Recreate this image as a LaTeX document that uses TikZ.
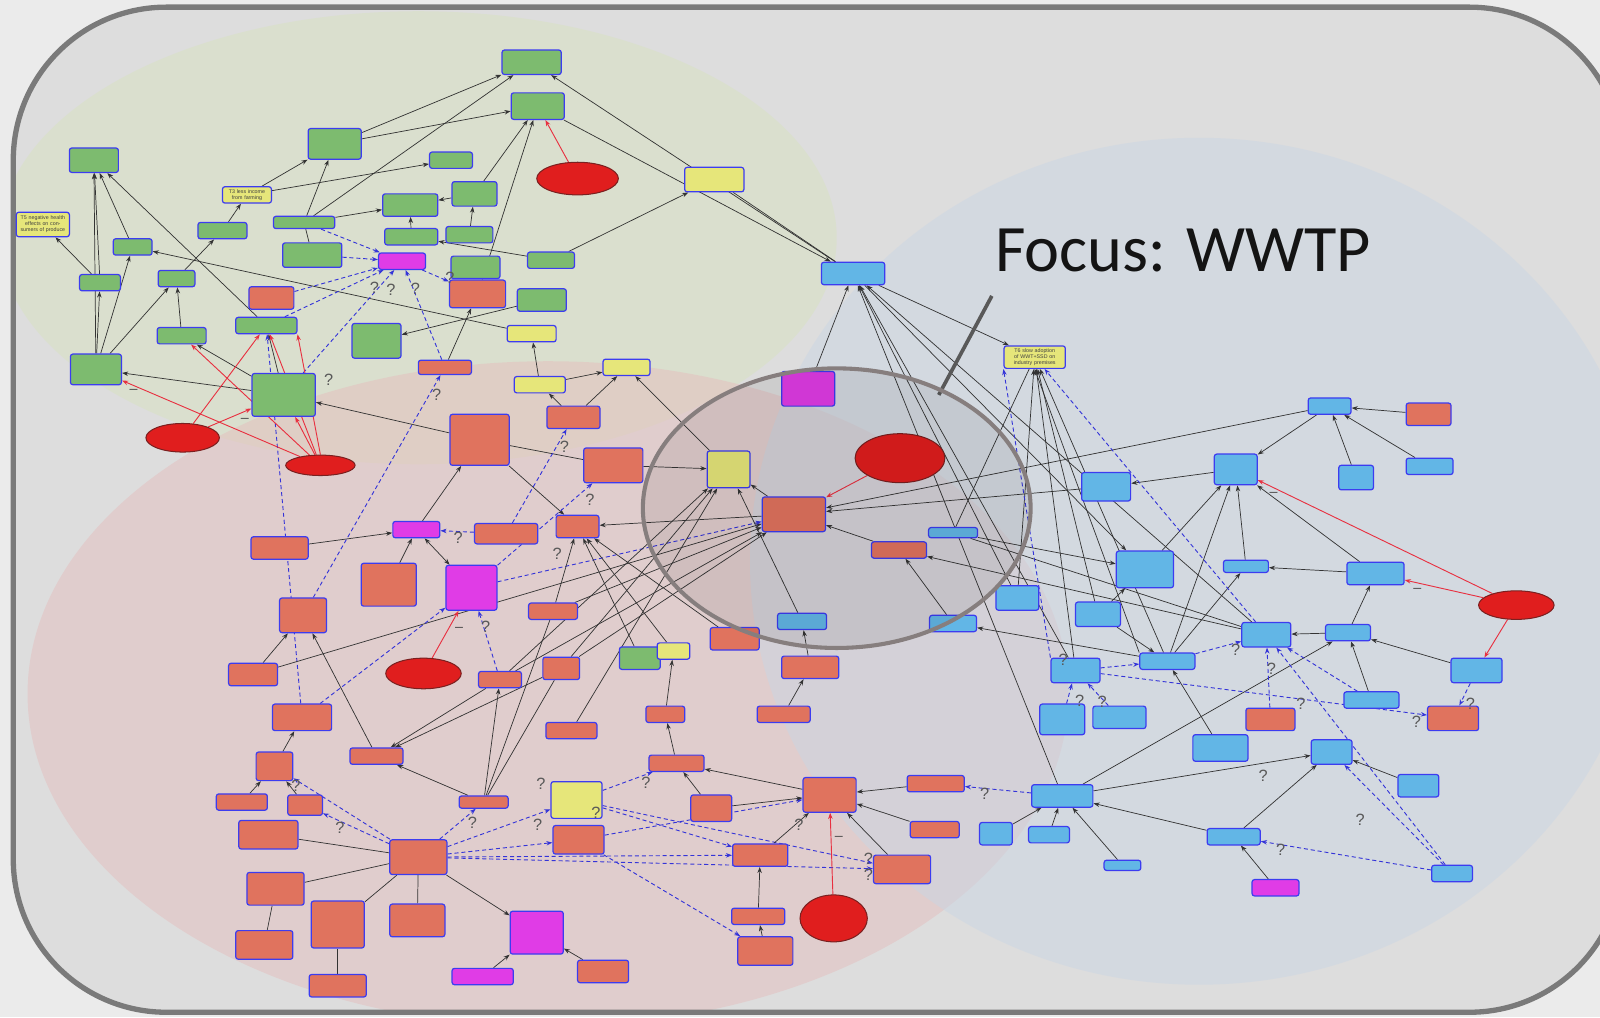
\documentclass[tikz,border=0pt]{standalone}
\usepackage{fontspec}
\newfontfamily\titlefont{Carlito}
\newfontfamily\nodefont{Liberation Sans}
\usetikzlibrary{arrows.meta,shapes.geometric}

\definecolor{pagebg}{HTML}{EBEBEB}
\definecolor{panelbg}{HTML}{DDDDDD}
\definecolor{panelrim}{HTML}{7A7A7A}
\definecolor{greenzone}{RGB}{216,226,192}
\definecolor{redzone}{RGB}{228,190,190}
\definecolor{bluezone}{RGB}{202,214,228}
\definecolor{gfill}{HTML}{7DBB6F}
\definecolor{yfill}{HTML}{E6E67A}
\definecolor{rfill}{HTML}{E0735E}
\definecolor{mfill}{HTML}{E03CE6}
\definecolor{bfill}{HTML}{62B6E6}
\definecolor{nodeedge}{HTML}{3C3CF0}
\definecolor{ellred}{HTML}{E01E1E}
\definecolor{ellrim}{HTML}{7A2020}
\definecolor{dashblue}{HTML}{3434D8}
\definecolor{redline}{HTML}{E83040}
\definecolor{focusrim}{RGB}{134,126,126}

\pgfdeclarelayer{bg}
\pgfdeclarelayer{edges}
\pgfsetlayers{bg,edges,main}

\tikzset{
  nbox/.style={draw=nodeedge, line width=0.6pt, rounded corners=1.2pt, inner sep=0.5pt,
    font=\nodefont\fontsize{2.6}{3}\selectfont, text=black!75, align=center},
  gbox/.style={nbox, fill=gfill},
  ybox/.style={nbox, fill=yfill},
  rbox/.style={nbox, fill=rfill},
  mbox/.style={nbox, fill=mfill},
  bluebox/.style={nbox, fill=bfill},
  cause/.style={ellipse, draw=ellrim, fill=ellred, line width=0.5pt, inner sep=0pt},
  tip/.style={-{Stealth[length=3pt,width=2.2pt]}},
  ar/.style={tip, line width=0.35pt, draw=black!80},
  ln/.style={line width=0.35pt, draw=black!80},
  both/.style={{Stealth[length=3pt,width=2.2pt]}-{Stealth[length=3pt,width=2.2pt]}, line width=0.35pt, draw=black!80},
  dar/.style={tip, draw=dashblue, dash pattern=on 2pt off 1.4pt, line width=0.45pt},
  rar/.style={tip, draw=redline, line width=0.45pt},
  qm/.style={font=\nodefont\fontsize{8}{8}\selectfont, text=black!65, inner sep=0pt},
  sign/.style={font=\nodefont\fontsize{7}{7}\selectfont, text=black!70, inner sep=0pt},
}

% box: name, style, x, y, width, height (picture pixels)
\newcommand\bx[6]{\node[#2,minimum width=#5*0.5pt,minimum height=#6*0.5pt] (#1) at (#3,#4) {};}
% box with text
\newcommand\tbx[7]{\node[#2,minimum width=#5*0.5pt,minimum height=#6*0.5pt,text width=#5*0.5pt-2pt] (#1) at (#3,#4) {#7};}
% cause ellipse: name, x, y, x radius, y radius
\newcommand\ov[5]{\node[cause,minimum width=#4*1pt,minimum height=#5*1pt] (#1) at (#2,#3) {};}

\begin{document}
\begin{tikzpicture}[x=0.5pt,y=-0.5pt]
\useasboundingbox (0,0) rectangle (1568,997);
\clip (0,0) rectangle (1568,997);

\begin{pgfonlayer}{bg}
  \fill[pagebg] (0,0) rectangle (1568,997);
  \fill[panelbg, rounded corners=75pt] (13,7) rectangle (1590,992);
  \begin{scope}
    \clip[rounded corners=75pt] (13,7) rectangle (1590,992);
    \fill[greenzone, opacity=0.5] (410,233) ellipse [x radius=410, y radius=222];
    \fill[redzone, opacity=0.5] (537,680) ellipse [x radius=510, y radius=326];
    \fill[bluezone, opacity=0.5] (1175,550) ellipse [x radius=440, y radius=415];
  \end{scope}
  \draw[panelrim, line width=2.6pt, rounded corners=75pt] (13,7) rectangle (1590,992);
\end{pgfonlayer}

% ---------- environment / livelihood cluster ----------
\bx{g1}{gbox}{521}{61}{58}{24}
\bx{g2}{gbox}{527}{104}{52}{26}
\bx{g3}{gbox}{328}{141}{52}{30}
\bx{g4}{gbox}{92}{157}{48}{24}
\bx{g5}{gbox}{442}{157}{42}{16}
\ov{e1}{566}{175}{40}{16}
\bx{y1}{ybox}{700}{176}{58}{24}
\tbx{y2}{ybox}{242}{191}{48}{16}{T3 less income from farming}
\bx{g6}{gbox}{465}{190}{44}{24}
\bx{g7}{gbox}{402}{201}{54}{22}
\bx{g8}{gbox}{218}{226}{48}{16}
\tbx{y3}{ybox}{42}{220}{52}{24}{T5 negative health effects on consumers of produce}
\bx{g9}{gbox}{298}{218}{60}{12}
\bx{g10}{gbox}{130}{242}{38}{16}
\bx{g11}{gbox}{403}{232}{52}{16}
\bx{g12}{gbox}{460}{230}{46}{16}
\bx{g13}{gbox}{306}{250}{58}{24}
\bx{m1}{mbox}{394}{256}{46}{16}
\bx{g14}{gbox}{540}{255}{46}{16}
\bx{g15}{gbox}{466}{262}{48}{22}
\bx{r1}{rbox}{468}{288}{55}{27}
\bx{g16}{gbox}{98}{277}{40}{16}
\bx{g17}{gbox}{173}{273}{36}{16}
\bx{r2}{rbox}{266}{292}{44}{22}
\bx{g18}{gbox}{531}{294}{48}{22}
\bx{g19}{gbox}{261}{319}{60}{16}
\bx{g20}{gbox}{178}{329}{48}{16}
\bx{g21}{gbox}{369}{334}{48}{34}
\bx{y4}{ybox}{521}{327}{48}{16}
\bx{g22}{gbox}{94}{362}{50}{30}
\bx{g23}{gbox}{278}{387}{62}{42}
\bx{r3}{rbox}{436}{360}{52}{14}
\bx{y5}{ybox}{614}{360}{46}{16}
\bx{y6}{ybox}{529}{377}{50}{16}
\ov{e2}{179}{429}{36}{14}
\ov{e3}{314}{456}{34}{10}

% ---------- water quality cluster ----------
\bx{m2}{mbox}{792}{381}{52}{34}
\bx{b1}{bluebox}{836}{268}{62}{22}
\tbx{y7}{ybox}{1014}{350}{60}{22}{T6 slow adoption of WWT+SSD on industry premises}
\bx{r4}{rbox}{562}{409}{52}{22}
\bx{r5}{rbox}{470}{431}{58}{50}
\bx{r6}{rbox}{601}{456}{58}{34}
\bx{y8}{ybox}{714}{460}{42}{36}
\ov{e4}{882}{449}{44}{24}
\bx{r7}{rbox}{778}{504}{62}{34}
\bx{m3}{mbox}{408}{519}{46}{16}
\bx{r8}{rbox}{496}{523}{62}{20}
\bx{r9}{rbox}{566}{516}{42}{22}
\bx{r10}{rbox}{274}{537}{56}{22}
\bx{r11}{rbox}{381}{573}{54}{42}
\bx{m4}{mbox}{462}{576}{50}{44}
\bx{r12}{rbox}{881}{539}{54}{16}
\bx{r14}{rbox}{542}{599}{48}{16}
\bx{r15}{rbox}{297}{603}{46}{34}
\bx{r16}{rbox}{720}{626}{48}{22}
\bx{g24}{gbox}{627}{645}{40}{22}
\bx{y9}{ybox}{660}{638}{32}{16}
\bx{r17}{rbox}{248}{661}{48}{22}
\ov{e6}{415}{660}{37}{15}
\bx{r18}{rbox}{490}{666}{42}{16}
\bx{r19}{rbox}{550}{655}{36}{22}
\bx{r20}{rbox}{794}{654}{56}{22}
\bx{r21}{rbox}{652}{700}{38}{16}
\bx{r22}{rbox}{768}{700}{52}{16}
\bx{r25}{rbox}{296}{703}{58}{26}
\bx{r26}{rbox}{560}{716}{50}{16}
\bx{r27}{rbox}{369}{741}{52}{16}
\bx{r28}{rbox}{269}{751}{36}{28}
\bx{r29}{rbox}{663}{748}{54}{16}
\bx{r30}{rbox}{813}{779}{52}{34}
\bx{r31}{rbox}{917}{768}{56}{16}
\bx{r32}{rbox}{237}{786}{50}{16}
\bx{r33}{rbox}{299}{789}{34}{20}
\bx{r34}{rbox}{474}{786}{48}{12}
\bx{y10}{ybox}{565}{784}{50}{36}
\bx{r35}{rbox}{697}{792}{40}{26}
\bx{r36}{rbox}{263}{818}{58}{28}
\bx{r37}{rbox}{567}{823}{50}{28}
\bx{r38}{rbox}{916}{813}{48}{16}
\bx{r39}{rbox}{410}{840}{56}{34}
\bx{r40}{rbox}{745}{838}{54}{22}
\bx{r41}{rbox}{884}{852}{56}{28}
\bx{r42}{rbox}{270}{871}{56}{32}
\bx{r43}{rbox}{331}{906}{52}{46}
\bx{r44}{rbox}{409}{902}{54}{32}
\bx{m5}{mbox}{526}{914}{52}{42}
\ov{e7}{817}{900}{33}{23}
\bx{r45}{rbox}{743}{898}{52}{16}
\bx{r46}{rbox}{750}{932}{54}{28}
\bx{r47}{rbox}{259}{926}{56}{28}
\bx{m7}{mbox}{473}{957}{60}{16}
\bx{r48}{rbox}{591}{952}{50}{22}
\bx{r49}{rbox}{331}{966}{56}{22}

% ---------- treatment capacity cluster ----------
\bx{b2}{bluebox}{934}{522}{48}{10}
\bx{b3}{bluebox}{1084}{477}{48}{28}
\bx{b4}{bluebox}{1211}{460}{42}{30}
\bx{b5}{bluebox}{1303}{398}{42}{16}
\bx{r13}{rbox}{1400}{406}{44}{22}
\bx{b6}{bluebox}{1329}{468}{34}{24}
\bx{b7}{bluebox}{1401}{457}{46}{16}
\bx{b8}{bluebox}{1122}{558}{56}{36}
\bx{b9}{bluebox}{1221}{555}{44}{12}
\bx{b10}{bluebox}{1348}{562}{56}{22}
\ov{e5}{1486}{593}{37}{14}
\bx{b11}{bluebox}{997}{586}{42}{24}
\bx{b12}{bluebox}{1076}{602}{44}{24}
\bx{b13}{bluebox}{934}{611}{46}{16}
\bx{b14}{bluebox}{786}{609}{48}{16}
\bx{b15}{bluebox}{1241}{622}{48}{24}
\bx{b16}{bluebox}{1321}{620}{44}{16}
\bx{b17}{bluebox}{1144}{648}{54}{16}
\bx{b18}{bluebox}{1054}{657}{48}{24}
\bx{b19}{bluebox}{1447}{657}{50}{24}
\bx{b20}{bluebox}{1041}{705}{44}{30}
\bx{b21}{bluebox}{1097}{703}{52}{22}
\bx{b22}{bluebox}{1344}{686}{54}{16}
\bx{r23}{rbox}{1245}{705}{48}{22}
\bx{r24}{rbox}{1424}{704}{50}{24}
\bx{b23}{bluebox}{1196}{733}{54}{26}
\bx{b24}{bluebox}{1305}{737}{40}{24}
\bx{b25}{bluebox}{1041}{780}{60}{22}
\bx{b26}{bluebox}{1390}{770}{40}{22}
\bx{b27}{bluebox}{976}{817}{32}{22}
\bx{b28}{bluebox}{1028}{818}{40}{16}
\bx{b29}{bluebox}{1209}{820}{52}{16}
\bx{b30}{bluebox}{1100}{848}{36}{10}
\bx{b31}{bluebox}{1423}{856}{40}{16}
\bx{m6}{mbox}{1250}{870}{46}{16}

% ---------- connectors ----------
\begin{pgfonlayer}{edges}
  % livelihood cluster
  \draw[ar] (g3) -- (g1);
  \draw[ar] (g3) -- (g2);
  \draw[ar] (y2) -- (g3);
  \draw[ar] (y2) -- (g5);
  \draw[ar] (g9) -- (g1);
  \draw[ar] (g9) -- (g7);
  \draw[ar] (g9) -- (g3);
  \draw[ln] (g13) -- (g9);
  \draw[ar] (g8) -- (y2);
  \draw[ar] (g17) -- (g8);
  \draw[ar] (g16) -- (y3);
  \draw[ar] (g16) -- (g4);
  \draw[ar] (g22) -- (g16);
  \draw[ar] (g22) -- (g4);
  \draw[ar] (g22) -- (g10);
  \draw[ar] (g22) -- (g17);
  \draw[ar] (g10) -- (g4);
  \draw[ar] (g19) -- (g4);
  \draw[ar] (g20) -- (g17);
  \draw[ar] (g23) -- (g22);
  \draw[ar] (g23) -- (g20);
  \draw[ar] (g23) -- (g19);
  \draw[ar] (r5) -- (g23);
  \draw[ar] (y4) -- (g10);
  \draw[ar] (g18) -- (g21);
  \draw[ar] (r3) -- (r1);
  \draw[ar] (r1) -- (g2);
  \draw[ar] (g6) -- (g2);
  \draw[ar] (g6) -- (g7);
  \draw[ar] (g12) -- (g6);
  \draw[ar] (g14) -- (g11);
  \draw[ar] (g11) -- (g7);
  \draw[dar] (g13) -- (m1);
  \draw[dar] (g9) -- (m1);
  \draw[dar] (g23) -- (m1);
  \draw[dar] (g19) -- (m1);
  \draw[dar] (r2) -- (m1);
  \draw[dar] (m1) -- (r1);
  \draw[dar] (r3) -- (m1);
  \draw[dar] (r25) -- (g19);
  \draw[rar] (e1) -- (g2);
  \draw[ar] (b1) -- (g1);
  \draw[ar] (g2) -- (b1);
  \draw[ln] (y1) -- (b1);
  \draw[ar] (g14) -- (y1);
  \draw[ar] (y6) -- (y4);
  \draw[ar] (y6) -- (y5);
  \draw[ar] (r4) -- (y6);
  \draw[ar] (r4) -- (y5);
  \draw[ar] (y8) -- (y5);
  \draw[rar] (e3) -- (g20);
  \draw[rar] (e3) -- (g22);
  \draw[rar] (e2) -- (g19);
  \draw[rar] (e2) -- (g23);
  \draw[rar] (e3) -- (g19);
  \draw[rar] (e3.north) -- (g19.south east);
  \draw[rar] (e3) -- (g23);

  % water quality cluster
  \draw[ar] (r7) -- (y8);
  \draw[rar] (e4) -- (r7);
  \draw[ar] (m2) -- (b1);
  \draw[ar] (r12) -- (r7);
  \draw[ar] (b3) -- (r7);
  \draw[ar] (b5) -- (r7);
  \draw[ar] (r7) -- (r9);
  \draw[ar] (r17) -- (r7);
  \draw[ar] (r14) -- (r7);
  \draw[ar] (r19) -- (r7);
  \draw[ar] (r18) -- (r7);
  \draw[dar] (m4) -- (r7);
  \draw[ar] (r19) -- (y8);
  \draw[ar] (r18) -- (y8);
  \draw[ar] (r26) -- (y8);
  \draw[ar] (b14) -- (y8);
  \draw[ar] (r6) -- (y8);
  \draw[ln] (r5) -- (r6);
  \draw[ar] (r20) -- (b14);
  \draw[ar] (r22) -- (r20);
  \draw[ar] (y9) -- (r9);
  \draw[ar] (g24) -- (r9);
  \draw[ar] (r16) -- (r9);
  \draw[ar] (r14) -- (r9);
  \draw[ar] (r5) -- (r9);
  \draw[dar] (r8) -- (m3);
  \draw[ar] (r10) -- (m3);
  \draw[ar] (r11) -- (m3);
  \draw[both] (m3) -- (m4);
  \draw[ar] (m3) -- (r5);
  \draw[dar] (m4) -- (r6);
  \draw[dar] (r8) -- (r4);
  \draw[dar] (r15) -- (r3);
  \draw[dar] (r18) -- (m4);
  \draw[dar] (r25) -- (m4);
  \draw[rar] (e6) -- (m4);
  \draw[ar] (r17) -- (r15);
  \draw[ar] (r27) -- (r15);
  \draw[ar] (r28) -- (r25);
  \draw[ar] (r32) -- (r28);
  \draw[ar] (r33) -- (r28);
  \draw[dar] (r39) -- (r28);
  \draw[dar] (r39) -- (r33);
  \draw[ar] (r34) -- (r27);
  \draw[ar] (r19) -- (r27);
  \draw[ar] (r18) -- (r27);
  \draw[ar] (r34) -- (r18);
  \draw[ln] (r34) -- (r19);
  \draw[ln] (r34) -- (r14);
  \draw[dar] (r39) -- (r34);
  \draw[dar] (r39) -- (y10);
  \draw[dar] (r39) -- (r37);
  \draw[dar] (r39) -- (r40);
  \draw[dar] (r39) -- (r41);
  \draw[ar] (r39) -- (m5);
  \draw[ln] (r36) -- (r39);
  \draw[ln] (r42) -- (r39);
  \draw[ln] (r43) -- (r39);
  \draw[ln] (r44) -- (r39);
  \draw[ln] (r42) -- (r47);
  \draw[ln] (r43) -- (r49);
  \draw[ar] (m7) -- (m5);
  \draw[ar] (r48) -- (m5);
  \draw[dar] (y10) -- (r29);
  \draw[dar] (y10) -- (r41);
  \draw[dar] (y10) -- (r40);
  \draw[dar] (r37) -- (r30);
  \draw[dar] (r37) -- (r46);
  \draw[ar] (r35) -- (r30);
  \draw[ar] (r35) -- (r29);
  \draw[ar] (r30) -- (r29);
  \draw[ar] (r29) -- (r21);
  \draw[ar] (r21) -- (y9);
  \draw[ar] (r40) -- (r30);
  \draw[ar] (r41) -- (r30);
  \draw[ar] (r38) -- (r30);
  \draw[ar] (r31) -- (r30);
  \draw[rar] (e7) -- (r30);
  \draw[ar] (r45) -- (r40);
  \draw[ar] (r46) -- (r45);
  \draw[dar] (b25) -- (r31);

  % treatment capacity cluster
  \draw[ar] (b27) -- (b25);
  \draw[ar] (b28) -- (b25);
  \draw[ar] (b30) -- (b25);
  \draw[ar] (b29) -- (b25);
  \draw[ar] (b25) -- (b24);
  \draw[ar] (b25) -- (b16);
  \draw[ar] (b25) -- (b1);
  \draw[ar] (b29) -- (b24);
  \draw[ar] (m6) -- (b29);
  \draw[dar] (b31) -- (b29);
  \draw[dar] (b31) -- (b24);
  \draw[dar] (b31) -- (b15);
  \draw[ar] (b26) -- (b24);
  \draw[dar] (r23) -- (b15);
  \draw[ar] (b23) -- (b17);
  \draw[ar] (b17) -- (y7);
  \draw[ar] (b17.north west) -- (y7.south);
  \draw[dar] (b18) -- (b17);
  \draw[ar] (b12) -- (b17);
  \draw[dar] (b17) -- (b15);
  \draw[ar] (b17) -- (b4);
  \draw[ar] (b17) -- (b9);
  \draw[dar] (b18) -- (r24);
  \draw[dar] (b20) -- (b18);
  \draw[dar] (b21) -- (b18);
  \draw[ar] (b16) -- (b15);
  \draw[ln] (b2) -- (b15);
  \draw[ar] (b19) -- (b16);
  \draw[ar] (b16) -- (b10);
  \draw[ar] (b22) -- (b16);
  \draw[ar] (b10) -- (b9);
  \draw[ar] (b10) -- (b4);
  \draw[rar] (e5) -- (b10);
  \draw[rar] (e5) -- (b4);
  \draw[rar] (e5) -- (b19);
  \draw[dar] (b19) -- (r24);
  \draw[dar] (b22) -- (b15);
  \draw[ar] (b5) -- (b4);
  \draw[ar] (r13) -- (b5);
  \draw[ar] (b6) -- (b5);
  \draw[ar] (b7) -- (b5);
  \draw[ar] (b8) -- (b4);
  \draw[ar] (b9) -- (b4);
  \draw[ar] (b4) -- (b3);
  \draw[ar] (b1) -- (b8);
  \draw[ar] (b12) -- (b8);
  \draw[ar] (b2) -- (b8);
  \draw[ar] (b1) -- (y7);
  \draw[ar] (b11) -- (y7);
  \draw[ar] (b18) -- (y7);
  \draw[dar] (b18.north west) -- (y7.south west);
  \draw[ar] (b12) -- (y7);
  \draw[dar] (b15) -- (y7);
  \draw[ln] (b2) -- (y7);
  \draw[ar] (b18) -- (b1);
  \draw[ar] (b15) -- (b1);
  \draw[ar] (b11) -- (b1);
  \draw[ar] (b13) -- (r12);
  \draw[ar] (b15) -- (r12);
  \draw[ar] (b17) -- (b13);
\end{pgfonlayer}

% uncertain-link marks
\foreach \qx/\qy in {367/282,383/284,407/283,441/272,322/372,428/387,553/438,578/490,
  546/543,449/527,476/614,290/770,333/811,463/806,530/768,527/808,633/767,584/797,
  783/808,851/842,851/857,965/778,1042/647,1211/637,1246/655,1275/690,1388/707,
  1441/690,1238/760,1058/687,1080/688,1255/833,1333/803}
  \node[qm] at (\qx,\qy) {?};
% negative-link marks
\foreach \sx/\sy in {131/384,240/412,450/617,1389/579,1248/485,822/822}
  \node[sign] at (\sx,\sy) {\textendash};

% focus marker
\draw[black!65, line width=1.8pt] (972,290) -- (920,387);
\fill[black, opacity=0.07] (820,498) ellipse [x radius=190, y radius=137];
\draw[focusrim, line width=2pt] (820,498) ellipse [x radius=190, y radius=137];
\node[anchor=base west, inner sep=0pt, text=black!92, font=\titlefont\fontsize{32.5}{33}\selectfont] (title) at (975,266) {Focus: WWTP};
\end{tikzpicture}
\end{document}
